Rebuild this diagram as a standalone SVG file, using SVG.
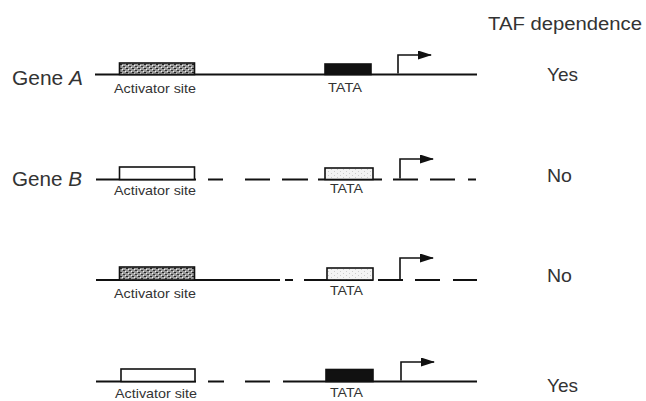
<svg xmlns="http://www.w3.org/2000/svg" width="646" height="401" viewBox="0 0 646 401">
<style>
.lbl{font-family:"Liberation Sans",Arial,sans-serif;fill:#333}
.big{font-size:20px}
.sm{font-size:13px}
.dna{stroke:#111;stroke-width:2;fill:none}
.box{stroke:#111;stroke-width:1.6}
.tss{stroke:#111;stroke-width:1.6;fill:none}
</style>
<defs>
<pattern id="stip" width="6" height="4" patternUnits="userSpaceOnUse">
<rect width="6" height="4" fill="#9a9a9a"/>
<rect x="0" y="0" width="2" height="1" fill="#222"/>
<rect x="3" y="2" width="2" height="1" fill="#333"/>
<rect x="2" y="1" width="1" height="1" fill="#eee"/>
<rect x="5" y="3" width="1" height="1" fill="#eee"/>
</pattern>
<pattern id="light" width="6" height="4" patternUnits="userSpaceOnUse">
<rect width="6" height="4" fill="#f4f4f4"/>
<rect x="1" y="1" width="1" height="1" fill="#ccc"/>
<rect x="4" y="3" width="1" height="1" fill="#ccc"/>
</pattern>
<marker id="ah" viewBox="0 0 14 9" refX="13" refY="4.5" markerWidth="14" markerHeight="9" markerUnits="userSpaceOnUse" orient="auto">
<path d="M0,0 L14,4.5 L0,9 Z" fill="#111"/>
</marker>
</defs>

<text class="lbl" x="488" y="30" font-size="18" textLength="154" lengthAdjust="spacingAndGlyphs">TAF dependence</text>

<g id="connectors">
<!-- row 1 -->
<path class="dna" d="M95,74.5 H477"/>
<!-- row 2 -->
<path class="dna" d="M96,179.5 H196 M208,179.5 H223 M245,179.5 H270 M282,179.5 H308 M318,179.5 H382 M393,179.5 H418 M430,179.5 H455 M468,179.5 H476"/>
<!-- row 3 -->
<path class="dna" d="M96,280 H280 M285,280 H293 M304,280 H373 M378,280 H403 M415,280 H440 M453,280 H477"/>
<!-- row 4 -->
<path class="dna" d="M96,381.5 H196 M208,381.5 H224 M245,381.5 H270 M283,381.5 H477"/>
<!-- TSS arrows -->
<path class="tss" d="M398,73.5 V55 H431" marker-end="url(#ah)"/>
<path class="tss" d="M400,178.5 V159 H433" marker-end="url(#ah)"/>
<path class="tss" d="M400,279 V258 H433" marker-end="url(#ah)"/>
<path class="tss" d="M401,380.5 V362 H434" marker-end="url(#ah)"/>
</g>

<g id="geneA">
<text class="lbl big" x="12" y="85" textLength="71" lengthAdjust="spacingAndGlyphs">Gene <tspan font-style="italic">A</tspan></text>
<rect class="box" x="119.5" y="63" width="75" height="11.5" fill="url(#stip)"/>
<text class="lbl sm" x="114" y="93" textLength="82" lengthAdjust="spacingAndGlyphs">Activator site</text>
<rect class="box" x="325" y="64" width="46" height="10.5" fill="#111"/>
<text class="lbl sm" x="328" y="92" textLength="34" lengthAdjust="spacingAndGlyphs">TATA</text>
<text class="lbl" x="547" y="80.5" font-size="19" textLength="31" lengthAdjust="spacingAndGlyphs">Yes</text>
</g>

<g id="geneB">
<text class="lbl big" x="12" y="186" textLength="70" lengthAdjust="spacingAndGlyphs">Gene <tspan font-style="italic">B</tspan></text>
<rect class="box" x="119.5" y="167" width="75" height="12.5" fill="#fff"/>
<text class="lbl sm" x="114" y="195" textLength="82" lengthAdjust="spacingAndGlyphs">Activator site</text>
<rect class="box" x="325" y="168" width="48" height="11.5" fill="url(#light)"/>
<text class="lbl sm" x="330" y="193" textLength="33" lengthAdjust="spacingAndGlyphs">TATA</text>
<text class="lbl" x="547" y="182" font-size="19" textLength="25" lengthAdjust="spacingAndGlyphs">No</text>
</g>

<g id="row3">
<rect class="box" x="119.5" y="267" width="75" height="13" fill="url(#stip)"/>
<text class="lbl sm" x="114" y="298" textLength="82" lengthAdjust="spacingAndGlyphs">Activator site</text>
<rect class="box" x="327" y="268" width="46" height="12" fill="url(#light)"/>
<text class="lbl sm" x="330" y="295" textLength="33" lengthAdjust="spacingAndGlyphs">TATA</text>
<text class="lbl" x="547" y="282" font-size="19" textLength="25" lengthAdjust="spacingAndGlyphs">No</text>
</g>

<g id="row4">
<rect class="box" x="121" y="369" width="74" height="12.5" fill="#fff"/>
<text class="lbl sm" x="115" y="398" textLength="82" lengthAdjust="spacingAndGlyphs">Activator site</text>
<rect class="box" x="326" y="369.5" width="47" height="12" fill="#111"/>
<text class="lbl sm" x="330" y="397" textLength="33" lengthAdjust="spacingAndGlyphs">TATA</text>
<text class="lbl" x="547" y="391.5" font-size="19" textLength="31" lengthAdjust="spacingAndGlyphs">Yes</text>
</g>
</svg>
